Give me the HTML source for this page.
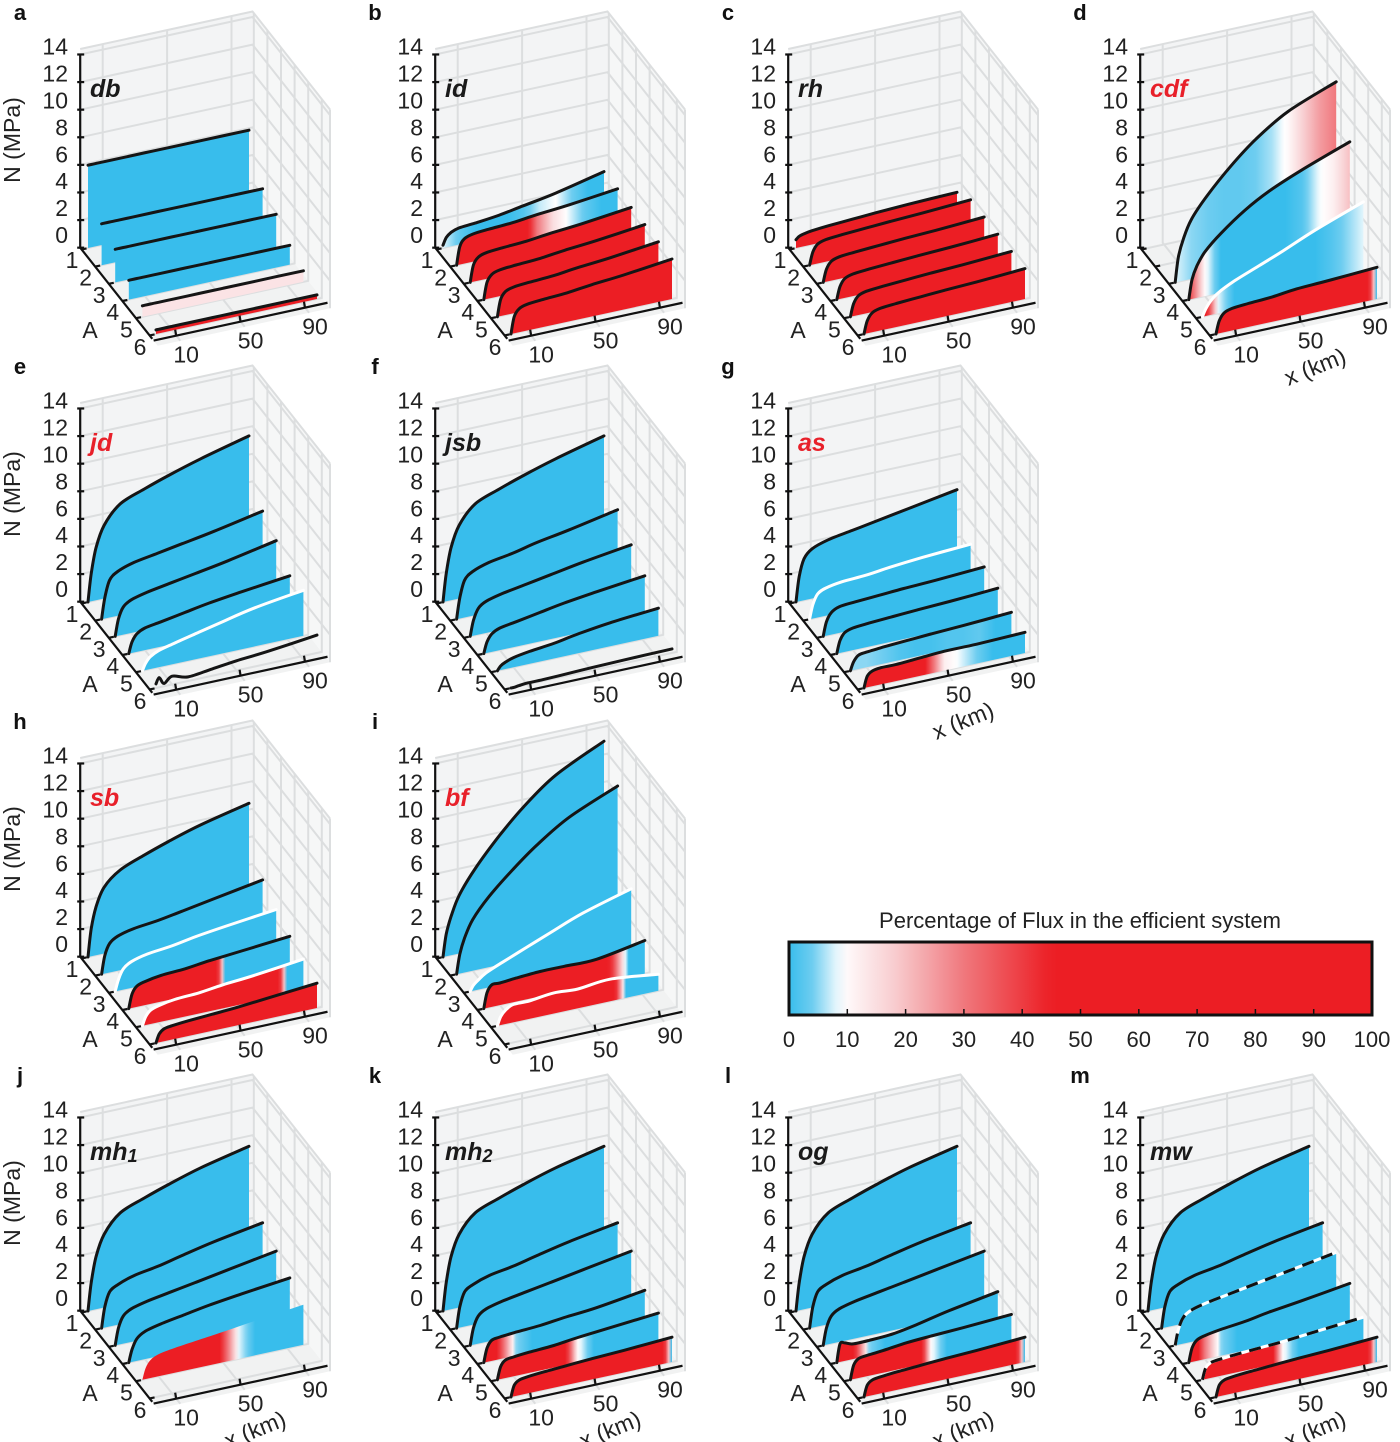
<!DOCTYPE html>
<html><head><meta charset="utf-8"><style>
html,body{margin:0;padding:0;background:#fff;}
svg{display:block;font-family:"Liberation Sans",sans-serif;}
</style></head><body>
<svg id="fig" width="1400" height="1442" viewBox="0 0 1400 1442" xmlns="http://www.w3.org/2000/svg">
<defs id="defs"></defs>
<g id="panels"></g>
<g id="colorbar">
  <text x="1080" y="928" font-size="22" text-anchor="middle" fill="#222">Percentage of Flux in the efficient system</text>
  <rect x="789" y="942" width="583" height="73" fill="url(#cbgrad)" stroke="#111" stroke-width="3"/>
  <g id="cbticks"></g>
</g>
</svg>
<script>
// ---------- data ----------
const XKM = [0,2,5,10,20,35,50,70,100];          // sample positions (km) for N values
const FKM = [0,10,20,30,40,50,60,70,80,90,100];  // sample positions (km) for flux values
const N_TICKS = [0,2,4,6,8,10,12,14];
const A_TICKS = [1,2,3,4,5,6];
const X_TICKS = [10,50,90];
const CB_TICKS = [0,10,20,30,40,50,60,70,80,90,100];
const B = [0,0,0,0,0,0,0,0,0,0,0];
const R = [100,100,100,100,100,100,100,100,100,100,100];
const RE = [100,100,100,100,100,100,100,100,100,100,0];

const N_a = [[6,6,6,6,6,6,6,6,6],[3,3,3,3,3,3,3,3,3],[2.4,2.4,2.4,2.4,2.4,2.4,2.4,2.4,2.4],[1.4,1.4,1.4,1.4,1.4,1.4,1.4,1.4,1.4],[0.8,0.8,0.8,0.8,0.8,0.8,0.8,0.8,0.8],[0.3,0.3,0.3,0.3,0.3,0.3,0.3,0.3,0.3]];
const F_a = [B,B,B,B,[14,14,14,14,14,14,14,14,14,14,14],R];
const L_a = ['k','k','k','k','k','k'];

const N_b = [[0.2,0.7,1.0,1.2,1.3,1.5,1.8,2.2,3.0],[0,1.3,1.8,2.0,2.1,2.2,2.4,2.6,3.0],[0,1.2,1.7,1.9,2.0,2.1,2.3,2.5,2.9],[0,1.2,1.7,1.9,2.0,2.1,2.3,2.5,2.9],[0,1.2,1.7,1.9,2.0,2.1,2.3,2.5,2.9],[0,1.2,1.7,1.9,2.0,2.1,2.3,2.5,2.9]];
const F_b = [[8,3,0,0,0,2,7,9,4,0,0],[100,100,100,90,60,30,15,8,3,0,0],R,R,R,R];
const L_b = ['k','k','k','k','k','k'];

const N_c = [[0.6,0.8,0.9,1,1.1,1.2,1.3,1.4,1.5],[0,0.9,1.4,1.6,1.7,1.8,1.9,2.0,2.2],[0,0.9,1.4,1.6,1.7,1.8,1.9,2.0,2.2],[0,0.9,1.4,1.6,1.7,1.8,1.9,2.0,2.2],[0,0.9,1.4,1.6,1.7,1.8,1.9,2.0,2.2],[0,0.9,1.4,1.6,1.7,1.8,1.9,2.0,2.2]];
const F_c = [R,R,R,R,R,R];
const L_c = ['k','k','k','k','k','k'];

const N_d = [null,null,[0,1.8,3,4.3,5.8,7.6,9.1,10.6,12.0],[0,1.4,2.3,3.2,4.3,5.6,6.6,7.6,8.9],[0,0.5,1,1.5,2.1,2.8,3.5,4.5,5.8],[0,0.9,1.4,1.6,1.7,1.8,2.0,2.1,2.3]];
const F_d = [null,null,[8,5,4,3,3,4,6,10,18,25,30],[40,10,0,0,0,0,0,2,8,12,20],[60,8,0,0,0,0,0,0,2,5,8],RE];
const L_d = ['n','n','k','k','w','k'];

const N_e = [[0,2,3.8,5.3,6.6,7.3,7.9,8.6,9.5],[0,1.5,2.7,3.2,3.6,3.9,4.2,4.6,5.3],[0,1.2,2,2.4,2.7,3,3.3,3.7,4.4],[0,0.8,1.3,1.6,1.8,2.1,2.4,2.7,3.1],[0,0.5,0.9,1.2,1.5,1.9,2.3,2.8,3.3],[0.3,0.7,0.2,0.6,0.3,0.5,0.7,0.9,1.3]];
const F_e = [B,B,B,B,B,null];
const L_e = ['k','k','k','k','w','k'];

const N_f = [[0,2,3.8,5.3,6.6,7.3,7.9,8.6,9.5],[0,1.5,2.7,3.2,3.6,3.9,4.3,4.7,5.4],[0,1.1,1.9,2.3,2.6,2.9,3.2,3.6,4.1],[0,0.8,1.3,1.6,1.8,2.1,2.4,2.7,3.1],[0,0.3,0.5,0.7,0.9,1.1,1.4,1.7,2.0],[0,0,0.05,0.1,0.1,0.15,0.2,0.25,0.3]];
const F_f = [B,B,B,B,B,null];
const L_f = ['k','k','k','k','k','k'];

const N_g = [[0,1.8,3,3.6,4,4.3,4.6,5,5.6],[0,1,1.7,2.0,2.2,2.3,2.5,2.7,2.9],[0,1.0,1.6,1.9,2.0,2.1,2.2,2.3,2.5],[0,0.9,1.4,1.6,1.7,1.8,1.9,2.0,2.2],[0,0.6,1.0,1.1,1.2,1.3,1.4,1.5,1.7],[0,0.8,1.1,1.2,1.2,1.3,1.4,1.4,1.5]];
const F_g = [B,B,B,B,[5,5,4,2,1,1,2,2,3,0,0],[100,100,100,80,40,12,8,4,0,0,0]];
const L_g = ['k','w','k','k','k','k'];

const N_h = [[0,2,3.5,4.8,5.8,6.5,7.1,7.8,8.6],[0,1.3,2.1,2.5,2.8,3.0,3.3,3.7,4.3],[0,0.8,1.5,1.9,2.2,2.4,2.7,3.0,3.4],[0,1.0,1.5,1.7,1.9,2.0,2.2,2.4,2.7],[0,0.6,1.0,1.2,1.4,1.5,1.7,1.9,2.3],[0,0.6,0.9,1.0,1.1,1.2,1.3,1.5,1.8]];
const F_h = [B,B,B,[100,100,100,100,100,100,0,0,0,0,0],[100,100,100,100,100,100,100,100,100,0,0],R];
const L_h = ['k','k','w','k','w','k'];

const N_i = [[0,1.6,2.8,4.2,5.9,7.9,9.6,11.4,13.1],[0,1.4,2.5,3.7,5.1,6.7,8.1,9.6,11.1],[0,0.4,0.7,1.1,1.6,2.3,3,3.9,4.9],[0,1.1,1.6,1.6,1.7,1.8,1.8,1.8,2.4],[0,0.6,1.0,1.3,1.3,1.5,1.4,1.6,1.2],null];
const F_i = [B,B,B,[100,100,100,100,100,90,70,60,40,0,0],[100,100,100,100,100,90,80,70,0,0,0],null];
const L_i = ['k','k','w','k','w','n'];

const N_j = [[0,2,3.8,5.3,6.6,7.3,7.9,8.6,9.4],[0,1.5,2.5,2.9,3.3,3.6,4.0,4.5,5.1],[0,1.2,2.0,2.4,2.7,3.0,3.3,3.7,4.3],[0,0.9,1.6,2.0,2.3,2.6,2.9,3.2,3.6],[0,0.8,1.3,1.6,1.8,2.0,2.2,2.5,2.9],null];
const F_j = [B,B,B,B,[100,100,100,100,100,40,8,0,0,0,0],null];
const L_j = ['k','k','k','k','n','n'];

const N_k = [[0,2,3.8,5.3,6.6,7.3,7.9,8.6,9.4],[0,1.5,2.5,2.9,3.3,3.6,4.0,4.5,5.1],[0,1.2,2.0,2.4,2.7,3.0,3.3,3.7,4.3],[0,1.0,1.5,1.6,1.7,1.8,2.0,2.2,2.7],[0,0.9,1.3,1.4,1.5,1.6,1.8,2.0,2.3],[0,0.8,1.1,1.2,1.3,1.4,1.5,1.6,1.8]];
const F_k = [B,B,B,[80,40,5,0,0,0,0,0,0,0,0],[100,100,100,100,60,10,0,0,0,0,0],RE];
const L_k = ['k','k','k','k','k','k'];

const N_l = [[0,2,3.8,5.3,6.6,7.3,7.9,8.6,9.4],[0,1.5,2.5,2.9,3.3,3.6,4.0,4.5,5.1],[0,1.2,2.0,2.4,2.7,3.0,3.3,3.7,4.3],[0,1.3,1.3,1.1,1.1,1.2,1.5,2.0,2.6],[0,1.0,1.4,1.5,1.6,1.8,1.9,2.0,2.2],[0,0.8,1.1,1.2,1.3,1.4,1.5,1.6,1.8]];
const F_l = [B,B,B,[90,50,5,0,0,0,0,0,0,0,0],[100,100,100,100,80,10,0,0,0,0,0],RE];
const L_l = ['k','k','k','k','k','k'];

const N_m = [[0,2,3.8,5.3,6.6,7.3,7.9,8.6,9.4],[0,1.5,2.5,2.9,3.3,3.6,4.0,4.5,5.1],[0,1.1,1.9,2.3,2.6,2.9,3.2,3.6,4.2],[0,1.0,1.5,1.7,1.9,2.1,2.4,2.7,3.2],[0,0.8,1.1,1.2,1.3,1.4,1.5,1.7,2.0],[0,0.8,1.1,1.2,1.3,1.4,1.5,1.6,1.8]];
const F_m = [B,B,B,[70,30,5,0,0,0,0,0,0,0,0],[100,100,100,100,70,10,0,0,0,0,0],RE];
const L_m = ['k','k','d','k','d','k'];

const PANELS = [
 {id:'a',name:'db',red:false,ox:0,oy:0,N:N_a,F:F_a,L:L_a,ylab:true,xlab:false},
 {id:'b',name:'id',red:false,ox:355,oy:0,N:N_b,F:F_b,L:L_b,ylab:false,xlab:false},
 {id:'c',name:'rh',red:false,ox:708,oy:0,N:N_c,F:F_c,L:L_c,ylab:false,xlab:false},
 {id:'d',name:'cdf',red:true,ox:1060,oy:0,N:N_d,F:F_d,L:L_d,ylab:false,xlab:true},
 {id:'e',name:'jd',red:true,ox:0,oy:354,N:N_e,F:F_e,L:L_e,ylab:true,xlab:false},
 {id:'f',name:'jsb',red:false,ox:355,oy:354,N:N_f,F:F_f,L:L_f,ylab:false,xlab:false},
 {id:'g',name:'as',red:true,ox:708,oy:354,N:N_g,F:F_g,L:L_g,ylab:false,xlab:true},
 {id:'h',name:'sb',red:true,ox:0,oy:709,N:N_h,F:F_h,L:L_h,ylab:true,xlab:false},
 {id:'i',name:'bf',red:true,ox:355,oy:709,N:N_i,F:F_i,L:L_i,ylab:false,xlab:false},
 {id:'j',name:'mh',sub:'1',red:false,ox:0,oy:1063,N:N_j,F:F_j,L:L_j,ylab:true,xlab:true},
 {id:'k',name:'mh',sub:'2',red:false,ox:355,oy:1063,N:N_k,F:F_k,L:L_k,ylab:false,xlab:true},
 {id:'l',name:'og',red:false,ox:708,oy:1063,N:N_l,F:F_l,L:L_l,ylab:false,xlab:true},
 {id:'m',name:'mw',red:false,ox:1060,oy:1063,N:N_m,F:F_m,L:L_m,ylab:false,xlab:true}
];

// ---------- helpers ----------
const NS='http://www.w3.org/2000/svg';
const CM=[[0,[56,189,236]],[4,[110,205,240]],[9,[255,255,255]],[18,[248,205,208]],[30,[240,120,125]],[45,[236,30,36]],[100,[236,30,36]]];
function cmap(f){
  for(let i=1;i<CM.length;i++){ if(f<=CM[i][0]){const a=CM[i-1],b=CM[i];const t=(f-a[0])/(b[0]-a[0]||1);
    return 'rgb('+a[1].map((v,k)=>Math.round(v+(b[1][k]-v)*t)).join(',')+')';}}
  return 'rgb(236,30,36)';
}
function P(x,A,N){return [88+1.61*x+13.6*(A-1), 248-0.35*x+17.2*(A-1)-13.8*N];}
function el(tag,attrs,parent){const e=document.createElementNS(NS,tag);for(const k in attrs)e.setAttribute(k,attrs[k]);if(parent)parent.appendChild(e);return e;}
function crPath(pts){
  let d='M'+pts[0][0].toFixed(1)+','+pts[0][1].toFixed(1);
  for(let i=0;i<pts.length-1;i++){
    const p0=pts[i-1]||pts[i],p1=pts[i],p2=pts[i+1],p3=pts[i+2]||p2;
    const c1=[p1[0]+(p2[0]-p0[0])/6,p1[1]+(p2[1]-p0[1])/6];
    const c2=[p2[0]-(p3[0]-p1[0])/6,p2[1]-(p3[1]-p1[1])/6];
    d+=' C'+c1[0].toFixed(1)+','+c1[1].toFixed(1)+' '+c2[0].toFixed(1)+','+c2[1].toFixed(1)+' '+p2[0].toFixed(1)+','+p2[1].toFixed(1);
  }
  return d;
}
function interpF(arr,x){const i=Math.min(9,Math.floor(x/10));const t=(x-i*10)/10;return arr[i]+(arr[i+1]-arr[i])*t;}
const defs=document.getElementById('defs');
const root=document.getElementById('panels');
const GRID='#dcdedf';

PANELS.forEach(pn=>{
  const g=el('g',{transform:'translate('+pn.ox+','+pn.oy+')'},root);
  
  
  const pt=(x,A,N)=>P(x,A,N).map(v=>v.toFixed(1)).join(',');
  const A0=0.9,A1=6.6,X0=-4,X1=103,NT=14.4;
  const floor=el('polygon',{points:[pt(X0,A0,0),pt(X1,A0,0),pt(X1,A1,0),pt(X0,A1,0)].join(' '),fill:'#f1f2f2'},g);
  
  
  const back=el('polygon',{points:[pt(X0,A0,0),pt(X1,A0,0),pt(X1,A0,NT),pt(X0,A0,NT)].join(' '),fill:'#f3f4f5'},g);
  
  
  const side=el('polygon',{points:[pt(X1,A0,0),pt(X1,A1,0),pt(X1,A1,NT),pt(X1,A0,NT)].join(' '),fill:'#f6f7f7'},g);
  
  
  const grid=el('g',{stroke:GRID,'stroke-width':2,fill:'none'},g);
  
  
  N_TICKS.forEach(n=>{ if(n===0)return;
    el('polyline',{points:[pt(X0,A0,n),pt(X1,A0,n),pt(X1,A1,n)].join(' ')},grid);});
  el('polyline',{points:[pt(X0,A0,NT),pt(X1,A0,NT),pt(X1,A1,NT)].join(' ')},grid);
  X_TICKS.forEach(x=>{el('polyline',{points:[pt(x,A1,0),pt(x,A0,0),pt(x,A0,NT)].join(' ')},grid);});
  A_TICKS.forEach(a=>{el('polyline',{points:[pt(X0,a,0),pt(X1,a,0),pt(X1,a,NT)].join(' ')},grid);});
  el('line',{x1:P(X1,A1,0)[0],y1:P(X1,A1,0)[1],x2:P(X1,A1,NT)[0],y2:P(X1,A1,NT)[1]},grid);

  for(let s=0;s<6;s++){
    const Nv=pn.N[s]; if(!Nv) continue;
    const A=s+1;
    const top=XKM.map((x,i)=>P(x,A,Nv[i]));
    const sg=el('g',{},g);
    
    
    const Fv=pn.F[s];
    if(Fv){
      const gid='gr_'+pn.id+'_'+A;
      const p0=P(0,A,0),p1=P(100,A,0);
      const lg=el('linearGradient',{id:gid,gradientUnits:'userSpaceOnUse',x1:p0[0],y1:0,x2:p1[0],y2:0},defs);
      for(let k=0;k<=50;k++){const x=k*2;el('stop',{offset:(x/100).toFixed(3),'stop-color':cmap(interpF(Fv,x))},lg);}
      const d=crPath(top)+' L'+p1[0].toFixed(1)+','+p1[1].toFixed(1)+' L'+p0[0].toFixed(1)+','+p0[1].toFixed(1)+' Z';
      const fillp=el('path',{d:d,fill:'url(#'+gid+')'},sg);
      
      
    }
    const lt=pn.L[s];
    if(lt!=='n'){
      const d=crPath(top);
      if(lt==='d'){
        el('path',{d:d,fill:'none',stroke:'#fff','stroke-width':3},sg);
        const ln=el('path',{d:d,fill:'none',stroke:'#111','stroke-width':3,'stroke-dasharray':'12 8'},sg);
        
        
      } else {
        const ln=el('path',{d:d,fill:'none',stroke:lt==='w'?'#fff':'#151515','stroke-width':3,'stroke-linecap':'round'},sg);
        
        
      }
    }
  }

  const ax=el('g',{stroke:'#111','stroke-width':2.2,fill:'none'},g);
  
  
  const nb=P(-4,0.9,0),ntp=P(-4,0.9,14);
  el('line',{x1:nb[0],y1:nb[1],x2:ntp[0],y2:ntp[1]},ax);
  N_TICKS.forEach(n=>{const p=P(-4,0.9,n);el('line',{x1:p[0]-3,y1:p[1],x2:p[0]+4,y2:p[1]},ax);});
  const a0=P(-4,0.9,0),a1=P(-4,6.2,0);
  el('line',{x1:a0[0],y1:a0[1],x2:a1[0],y2:a1[1]},ax);
  A_TICKS.forEach(a=>{const p=P(-4,a,0);el('line',{x1:p[0],y1:p[1],x2:p[0]+5,y2:p[1]-1},ax);});
  const x0=P(-4,6.3,0),x1=P(104,6.3,0);
  el('line',{x1:x0[0],y1:x0[1],x2:x1[0],y2:x1[1]},ax);
  X_TICKS.forEach(x=>{const p=P(x,6.3,0);el('line',{x1:p[0],y1:p[1],x2:p[0]-1,y2:p[1]-6},ax);});

  const tl=el('g',{'font-size':23,fill:'#222'},g);
  
  
  N_TICKS.forEach(n=>{const t=el('text',{x:68,y:(243-13.45*n).toFixed(1),'text-anchor':'end'},tl);t.textContent=n;});
  A_TICKS.forEach(a=>{const t=el('text',{x:(72+13.6*(a-1)).toFixed(1),y:(268+17.4*(a-1)).toFixed(1),'text-anchor':'middle'},tl);t.textContent=a;});
  X_TICKS.forEach(x=>{const p=P(x,6.3,0);const t=el('text',{x:(p[0]+10).toFixed(1),y:(p[1]+27).toFixed(1),'text-anchor':'middle'},tl);t.textContent=x;});
  const al=el('text',{x:90,y:338,'text-anchor':'middle'},tl);al.textContent='A';
  
  
  if(pn.ylab){
    const yl=el('text',{x:0,y:0,'font-size':23,'text-anchor':'middle',transform:'translate(20,140) rotate(-90)',fill:'#222'},g);
    yl.textContent='N (MPa)';
    
    
  }
  if(pn.xlab){
    const xl=el('text',{x:0,y:0,'font-size':23,'text-anchor':'middle',transform:'translate(258,374) rotate(-22)',fill:'#222'},g);
    xl.textContent='x (km)';
    
    
  }
  const lt=el('text',{x:20,y:20,'font-size':22,'font-weight':'bold','text-anchor':'middle',fill:'#111'},g);
  lt.textContent=pn.id;
  
  
  const nm=el('text',{x:90,y:97,'font-size':25,'font-weight':'bold','font-style':'italic',fill:pn.red?'#e8202a':'#1a1a1a'},g);
  nm.textContent=pn.name;
  if(pn.sub){const ts=el('tspan',{'font-size':18,dy:2},nm);ts.textContent=pn.sub;}
  
  
});

const cg=el('linearGradient',{id:'cbgrad',x1:0,y1:0,x2:1,y2:0},defs);
for(let k=0;k<=100;k+=2){el('stop',{offset:(k/100).toFixed(2),'stop-color':cmap(k)},cg);}
const cbt=document.getElementById('cbticks');
CB_TICKS.forEach(v=>{
  const x=789+583*v/100;
  el('line',{x1:x,y1:1015,x2:x,y2:1009,stroke:'#111','stroke-width':1.5},cbt);
  const t=el('text',{x:x.toFixed(1),y:1047,'font-size':22,'text-anchor':'middle',fill:'#222'},cbt);
  t.textContent=v;
  
  
});
</script>
</body></html>
